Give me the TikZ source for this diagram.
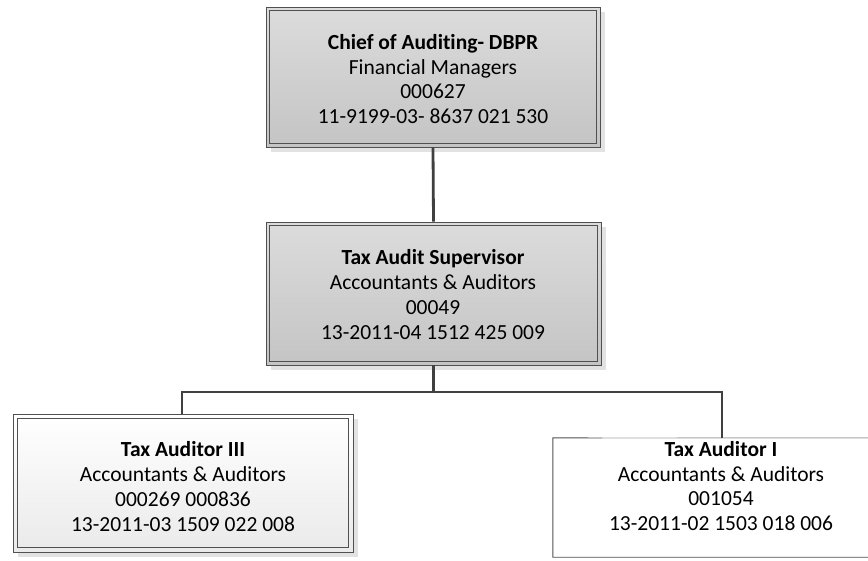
\documentclass[tikz,border=0pt]{standalone}
\usepackage{fontspec}
\setmainfont{Carlito}[Ligatures={NoCommon}]
\usetikzlibrary{shadows}
\definecolor{edgegray}{HTML}{505050}
\definecolor{conngray}{HTML}{404040}
\definecolor{boxtop}{HTML}{DCDCDC}
\definecolor{boxbot}{HTML}{C4C4C4}
\definecolor{shadowgray}{HTML}{E2E2E2}
\definecolor{lighttop}{HTML}{FFFFFF}
\definecolor{lightbot}{HTML}{EAEAEA}
\begin{document}
\begin{tikzpicture}[x=1pt,y=-1pt,
  boxshadow/.style={drop shadow={shadow xshift=5pt,shadow yshift=-5pt,fill=shadowgray,opacity=1}},
  greybox/.style={rectangle,inner sep=0pt,draw=edgegray,line width=0.9pt,
    top color=boxtop,bottom color=boxbot,boxshadow},
  whitebox/.style={rectangle,inner sep=0pt,draw=edgegray,line width=0.9pt,
    top color=lighttop,bottom color=lightbot,boxshadow},
  innerline/.style={draw=edgegray,line width=1.1pt},
  roletext/.style={align=center,inner sep=0pt,font=\fontsize{21.5}{24.8}\selectfont},
  conn/.style={draw=conngray,line width=2.8pt}]
\useasboundingbox (0,0) rectangle (868,560);
\clip (0,0) rectangle (868,560);
\fill[white] (0,0) rectangle (868,560);

% chief of auditing
\node[greybox,minimum width=334pt,minimum height=140pt] (top) at (433,77) {};
\draw[innerline] ([shift={(4,4)}]top.north west) rectangle ([shift={(-4,-4)}]top.south east);
\node[roletext] (toptext) at (433,79)
  {\textbf{Chief of Auditing- DBPR}\\Financial Managers\\000627\\11-9199-03- 8637 021 530};

% supervisor
\node[greybox,minimum width=335pt,minimum height=143pt] (mid) at (433.5,293.5) {};
\draw[innerline] ([shift={(4,4)}]mid.north west) rectangle ([shift={(-4,-4)}]mid.south east);
\node[roletext] (midtext) at (433,294.5)
  {\textbf{Tax Audit Supervisor}\\Accountants \& Auditors\\00049\\13-2011-04 1512 425 009};

% tax auditor III
\node[whitebox,minimum width=340pt,minimum height=138pt] (left) at (183,483) {};
\draw[innerline] ([shift={(5,5)}]left.north west) rectangle ([shift={(-5,-5)}]left.south east);
\node[roletext] (lefttext) at (183,486.5)
  {\textbf{Tax Auditor III}\\Accountants \& Auditors\\000269 000836\\13-2011-03 1509 022 008};

% tax auditor I
\node[rectangle,inner sep=0pt,fill=white,minimum width=316pt,minimum height=119pt] (right) at (711,497.5) {};
\coordinate (rbreak) at (602,438);
\draw[draw=edgegray,line width=0.9pt] (rbreak) -- (right.north west) -- (right.south west) -- (right.south east);
\draw[draw=black!35,line width=0.9pt] (rbreak) -- (right.north east);
\node[roletext] (righttext) at (721,486)
  {\textbf{Tax Auditor I}\\Accountants \& Auditors\\001054\\13-2011-02 1503 018 006};

% reporting lines
\coordinate (busL) at (182,392);
\coordinate (busR) at (722,392);
\draw[conn] (top.south) -- (mid.north);
\draw[conn] (mid.south) -- (mid.south |- busL);
\draw[conn] (busL |- left.north) -- (busL) -- (busR) -- (busR |- right.north);
\end{tikzpicture}
\end{document}
